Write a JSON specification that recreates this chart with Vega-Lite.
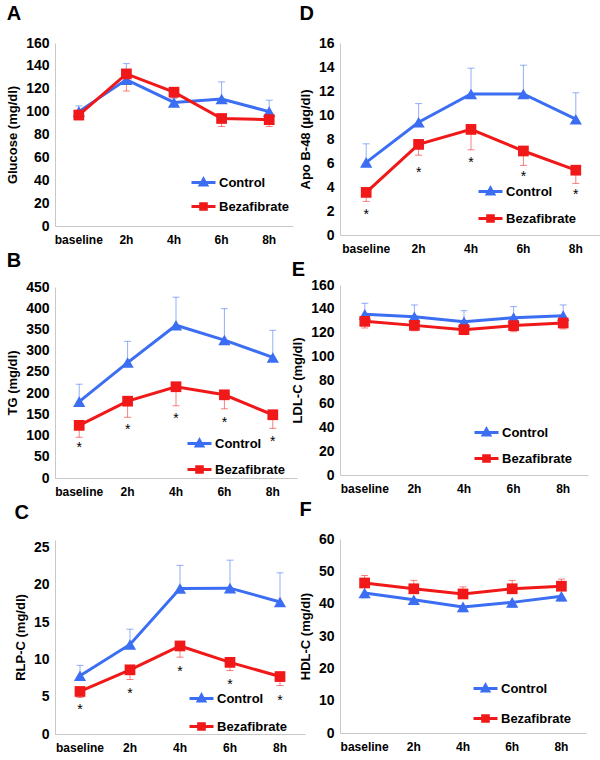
{
"$schema": "https://vega.github.io/schema/vega-lite/v6.json",
"background": "white",
"padding": {"left": 6, "top": 4, "right": 2, "bottom": 2},
"config": {
  "font": "Liberation Sans",
  "view": {"stroke": null},
  "axis": {"grid": false, "ticks": false, "labelOverlap": false, "domainColor": "#c8c8c8", "labelFont": "Liberation Sans", "labelFontWeight": "bold", "labelColor": "#000", "titleFont": "Liberation Sans", "titleFontWeight": "bold", "titleFontSize": 13, "titleColor": "#000"},
  "axisX": {"labelAngle": 0, "title": null, "labelPadding": 8, "labelFontSize": 12},
  "axisY": {"labelPadding": 6, "titlePadding": 6, "labelFontSize": 14},
  "title": {"fontSize": 20, "fontWeight": "bold", "anchor": "start", "frame": "bounds", "font": "Liberation Sans", "color": "#000"},
  "legend": {"orient": "none", "title": null, "labelFontSize": 13, "labelFontWeight": "bold", "labelColor": "#000", "labelFont": "Liberation Sans", "symbolSize": 64, "symbolStrokeWidth": 3, "symbolOpacity": 1, "labelOffset": 9, "rowPadding": 11, "padding": 0}
},
"data": {"values": [
  {"p":"A","g":"Control","t":"baseline","v":100,"e":105},
  {"p":"A","g":"Control","t":"2h","v":128,"e":142},
  {"p":"A","g":"Control","t":"4h","v":108,"e":112},
  {"p":"A","g":"Control","t":"6h","v":111,"e":126},
  {"p":"A","g":"Control","t":"8h","v":100,"e":110},
  {"p":"A","g":"Bezafibrate","t":"baseline","v":97,"e":93},
  {"p":"A","g":"Bezafibrate","t":"2h","v":133,"e":118},
  {"p":"A","g":"Bezafibrate","t":"4h","v":117,"e":112},
  {"p":"A","g":"Bezafibrate","t":"6h","v":94,"e":87},
  {"p":"A","g":"Bezafibrate","t":"8h","v":93,"e":87},
  {"p":"D","g":"Control","t":"baseline","v":6.05,"e":7.6},
  {"p":"D","g":"Control","t":"2h","v":9.4,"e":10.95},
  {"p":"D","g":"Control","t":"4h","v":11.75,"e":13.9},
  {"p":"D","g":"Control","t":"6h","v":11.75,"e":14.15},
  {"p":"D","g":"Control","t":"8h","v":9.65,"e":11.85},
  {"p":"D","g":"Bezafibrate","t":"baseline","v":3.55,"e":2.8,"s":1.9},
  {"p":"D","g":"Bezafibrate","t":"2h","v":7.55,"e":6.65,"s":5.4},
  {"p":"D","g":"Bezafibrate","t":"4h","v":8.8,"e":7.1,"s":6.25},
  {"p":"D","g":"Bezafibrate","t":"6h","v":7.0,"e":5.8,"s":5.1},
  {"p":"D","g":"Bezafibrate","t":"8h","v":5.4,"e":4.3,"s":3.6},
  {"p":"B","g":"Control","t":"baseline","v":180,"e":221},
  {"p":"B","g":"Control","t":"2h","v":272,"e":322},
  {"p":"B","g":"Control","t":"4h","v":360,"e":426},
  {"p":"B","g":"Control","t":"6h","v":325,"e":399},
  {"p":"B","g":"Control","t":"8h","v":284,"e":348},
  {"p":"B","g":"Bezafibrate","t":"baseline","v":124,"e":96,"s":78},
  {"p":"B","g":"Bezafibrate","t":"2h","v":181,"e":143,"s":121},
  {"p":"B","g":"Bezafibrate","t":"4h","v":215,"e":170,"s":147},
  {"p":"B","g":"Bezafibrate","t":"6h","v":196,"e":163,"s":137},
  {"p":"B","g":"Bezafibrate","t":"8h","v":149,"e":117,"s":92},
  {"p":"E","g":"Control","t":"baseline","v":135.3,"e":144.6},
  {"p":"E","g":"Control","t":"2h","v":133.3,"e":143.2},
  {"p":"E","g":"Control","t":"4h","v":129,"e":138.4},
  {"p":"E","g":"Control","t":"6h","v":132.5,"e":141.8},
  {"p":"E","g":"Control","t":"8h","v":134.2,"e":143.2},
  {"p":"E","g":"Bezafibrate","t":"baseline","v":129.4,"e":123.8},
  {"p":"E","g":"Bezafibrate","t":"2h","v":126,"e":121.5},
  {"p":"E","g":"Bezafibrate","t":"4h","v":122.4,"e":118.2},
  {"p":"E","g":"Bezafibrate","t":"6h","v":125.8,"e":120.7},
  {"p":"E","g":"Bezafibrate","t":"8h","v":128,"e":123},
  {"p":"C","g":"Control","t":"baseline","v":7.8,"e":9.2},
  {"p":"C","g":"Control","t":"2h","v":12.0,"e":14.05},
  {"p":"C","g":"Control","t":"4h","v":19.5,"e":22.6},
  {"p":"C","g":"Control","t":"6h","v":19.55,"e":23.3},
  {"p":"C","g":"Control","t":"8h","v":17.7,"e":21.6},
  {"p":"C","g":"Bezafibrate","t":"baseline","v":5.7,"e":4.9,"s":3.65},
  {"p":"C","g":"Bezafibrate","t":"2h","v":8.6,"e":7.3,"s":5.7},
  {"p":"C","g":"Bezafibrate","t":"4h","v":11.8,"e":10.3,"s":8.7},
  {"p":"C","g":"Bezafibrate","t":"6h","v":9.6,"e":8.5,"s":7.0},
  {"p":"C","g":"Bezafibrate","t":"8h","v":7.7,"e":6.5,"s":4.8},
  {"p":"F","g":"Control","t":"baseline","v":43.3,"e":41.8},
  {"p":"F","g":"Control","t":"2h","v":41.2,"e":39.7},
  {"p":"F","g":"Control","t":"4h","v":39,"e":37.5},
  {"p":"F","g":"Control","t":"6h","v":40.4,"e":38.9},
  {"p":"F","g":"Control","t":"8h","v":42.3,"e":40.8},
  {"p":"F","g":"Bezafibrate","t":"baseline","v":46.4,"e":48.7},
  {"p":"F","g":"Bezafibrate","t":"2h","v":44.6,"e":47.2},
  {"p":"F","g":"Bezafibrate","t":"4h","v":43,"e":45.2},
  {"p":"F","g":"Bezafibrate","t":"6h","v":44.6,"e":47.2},
  {"p":"F","g":"Bezafibrate","t":"8h","v":45.4,"e":47.6}
]},
"resolve": {"scale": {"color": "independent", "shape": "independent"}, "legend": {"color": "independent", "shape": "independent"}},
"align": "none",
"spacing": -14,
"hconcat": [
 {"vconcat": [
  {
   "title": {"text": "A", "offset": 12},
   "width": 238, "height": 183,
   "transform": [{"filter": "datum.p === 'A'"}],
   "encoding": {"x": {"field": "t", "type": "ordinal", "sort": ["baseline","2h","4h","6h","8h"], "title": null}},
   "layer": [
    {"transform": [{"filter": "datum.p === 'none'"}], "mark": {"type": "point", "filled": false, "strokeWidth": 3, "opacity": 1},
     "encoding": {"y": {"field": "v", "type": "quantitative", "scale": {"domain": [0,160]}, "axis": {"values": [0,20,40,60,80,100,120,140,160], "labelOverlap": false, "title": "Glucose (mg/dl)"}},
      "color": {"field": "g", "type": "nominal", "scale": {"domain": ["Control","Bezafibrate"], "range": ["#3b6ef2","#f01818"]}, "legend": {"legendX": 142, "legendY": 133, "rowPadding": 6}},
      "shape": {"field": "g", "type": "nominal", "scale": {"domain": ["Control","Bezafibrate"], "range": ["M-3,0H3M0,-0.85L0.8,0.6H-0.8Z","M-3,0H3M-0.7,-0.7H0.7V0.7H-0.7Z"]}, "legend": {"legendX": 142, "legendY": 133, "rowPadding": 6}}}},
    {"mark": {"type": "rule", "strokeWidth": 1, "opacity": 0.55},
     "encoding": {"y": {"field": "v", "type": "quantitative", "axis": {"values": [0,20,40,60,80,100,120,140,160], "labelOverlap": false, "title": "Glucose (mg/dl)"}}, "y2": {"field": "e"}, "color": {"field": "g", "type": "nominal"}}},
    {"mark": {"type": "tick", "thickness": 1, "size": 7, "opacity": 0.55},
     "encoding": {"y": {"field": "e", "type": "quantitative", "axis": {"values": [0,20,40,60,80,100,120,140,160], "labelOverlap": false, "title": "Glucose (mg/dl)"}}, "color": {"field": "g", "type": "nominal"}}},
    {"mark": {"type": "line", "strokeWidth": 3},
     "encoding": {"y": {"field": "v", "type": "quantitative", "axis": {"values": [0,20,40,60,80,100,120,140,160], "labelOverlap": false, "title": "Glucose (mg/dl)"}}, "color": {"field": "g", "type": "nominal"}}},
    {"transform": [{"filter": "datum.g === 'Control'"}], "mark": {"type": "point", "filled": true, "opacity": 1, "size": 150, "shape": "triangle-up"},
     "encoding": {"y": {"field": "v", "type": "quantitative", "axis": {"values": [0,20,40,60,80,100,120,140,160], "labelOverlap": false, "title": "Glucose (mg/dl)"}}, "color": {"field": "g", "type": "nominal"}}},
    {"transform": [{"filter": "datum.g === 'Bezafibrate'"}], "mark": {"type": "point", "filled": true, "opacity": 1, "size": 115, "shape": "square"},
     "encoding": {"y": {"field": "v", "type": "quantitative", "axis": {"values": [0,20,40,60,80,100,120,140,160], "labelOverlap": false, "title": "Glucose (mg/dl)"}}, "color": {"field": "g", "type": "nominal"}}}
   ]
  },
  {
   "title": {"text": "B", "offset": 9},
   "width": 242, "height": 191,
   "transform": [{"filter": "datum.p === 'B'"}],
   "encoding": {"x": {"field": "t", "type": "ordinal", "sort": ["baseline","2h","4h","6h","8h"], "title": null}},
   "layer": [
    {"transform": [{"filter": "datum.p === 'none'"}], "mark": {"type": "point", "filled": false, "strokeWidth": 3, "opacity": 1},
     "encoding": {"y": {"field": "v", "type": "quantitative", "scale": {"domain": [0,450]}, "axis": {"values": [0,50,100,150,200,250,300,350,400,450], "labelOverlap": false, "title": "TG  (mg/dl)"}},
      "color": {"field": "g", "type": "nominal", "scale": {"domain": ["Control","Bezafibrate"], "range": ["#3b6ef2","#f01818"]}, "legend": {"legendX": 138, "legendY": 150, "rowPadding": 8}},
      "shape": {"field": "g", "type": "nominal", "scale": {"domain": ["Control","Bezafibrate"], "range": ["M-3,0H3M0,-0.85L0.8,0.6H-0.8Z","M-3,0H3M-0.7,-0.7H0.7V0.7H-0.7Z"]}, "legend": {"legendX": 138, "legendY": 150, "rowPadding": 8}}}},
    {"mark": {"type": "rule", "strokeWidth": 1, "opacity": 0.55},
     "encoding": {"y": {"field": "v", "type": "quantitative", "axis": {"values": [0,50,100,150,200,250,300,350,400,450], "labelOverlap": false, "title": "TG  (mg/dl)"}}, "y2": {"field": "e"}, "color": {"field": "g", "type": "nominal"}}},
    {"mark": {"type": "tick", "thickness": 1, "size": 7, "opacity": 0.55},
     "encoding": {"y": {"field": "e", "type": "quantitative", "axis": {"values": [0,50,100,150,200,250,300,350,400,450], "labelOverlap": false, "title": "TG  (mg/dl)"}}, "color": {"field": "g", "type": "nominal"}}},
    {"mark": {"type": "line", "strokeWidth": 3},
     "encoding": {"y": {"field": "v", "type": "quantitative", "axis": {"values": [0,50,100,150,200,250,300,350,400,450], "labelOverlap": false, "title": "TG  (mg/dl)"}}, "color": {"field": "g", "type": "nominal"}}},
    {"transform": [{"filter": "datum.g === 'Control'"}], "mark": {"type": "point", "filled": true, "opacity": 1, "size": 150, "shape": "triangle-up"},
     "encoding": {"y": {"field": "v", "type": "quantitative", "axis": {"values": [0,50,100,150,200,250,300,350,400,450], "labelOverlap": false, "title": "TG  (mg/dl)"}}, "color": {"field": "g", "type": "nominal"}}},
    {"transform": [{"filter": "datum.g === 'Bezafibrate'"}], "mark": {"type": "point", "filled": true, "opacity": 1, "size": 115, "shape": "square"},
     "encoding": {"y": {"field": "v", "type": "quantitative", "axis": {"values": [0,50,100,150,200,250,300,350,400,450], "labelOverlap": false, "title": "TG  (mg/dl)"}}, "color": {"field": "g", "type": "nominal"}}},
    {"mark": {"type": "text", "text": "*", "fontSize": 14, "baseline": "middle", "dy": 3, "color": "#000"},
     "encoding": {"y": {"field": "s", "type": "quantitative", "axis": {"values": [0,50,100,150,200,250,300,350,400,450], "labelOverlap": false, "title": "TG  (mg/dl)"}}}}
   ]
  },
  {
   "title": {"text": "C", "offset": 17},
   "width": 250, "height": 194,
   "transform": [{"filter": "datum.p === 'C'"}],
   "encoding": {"x": {"field": "t", "type": "ordinal", "sort": ["baseline","2h","4h","6h","8h"], "title": null}},
   "layer": [
    {"transform": [{"filter": "datum.p === 'none'"}], "mark": {"type": "point", "filled": false, "strokeWidth": 3, "opacity": 1},
     "encoding": {"y": {"field": "v", "type": "quantitative", "scale": {"domain": [0,25]}, "axis": {"values": [0,5,10,15,20,25], "labelOverlap": false, "title": "RLP-C  (mg/dl)"}},
      "color": {"field": "g", "type": "nominal", "scale": {"domain": ["Control","Bezafibrate"], "range": ["#3b6ef2","#f01818"]}, "legend": {"legendX": 140, "legendY": 152, "rowPadding": 10}},
      "shape": {"field": "g", "type": "nominal", "scale": {"domain": ["Control","Bezafibrate"], "range": ["M-3,0H3M0,-0.85L0.8,0.6H-0.8Z","M-3,0H3M-0.7,-0.7H0.7V0.7H-0.7Z"]}, "legend": {"legendX": 140, "legendY": 152, "rowPadding": 10}}}},
    {"mark": {"type": "rule", "strokeWidth": 1, "opacity": 0.55},
     "encoding": {"y": {"field": "v", "type": "quantitative", "axis": {"values": [0,5,10,15,20,25], "labelOverlap": false, "title": "RLP-C  (mg/dl)"}}, "y2": {"field": "e"}, "color": {"field": "g", "type": "nominal"}}},
    {"mark": {"type": "tick", "thickness": 1, "size": 7, "opacity": 0.55},
     "encoding": {"y": {"field": "e", "type": "quantitative", "axis": {"values": [0,5,10,15,20,25], "labelOverlap": false, "title": "RLP-C  (mg/dl)"}}, "color": {"field": "g", "type": "nominal"}}},
    {"mark": {"type": "line", "strokeWidth": 3},
     "encoding": {"y": {"field": "v", "type": "quantitative", "axis": {"values": [0,5,10,15,20,25], "labelOverlap": false, "title": "RLP-C  (mg/dl)"}}, "color": {"field": "g", "type": "nominal"}}},
    {"transform": [{"filter": "datum.g === 'Control'"}], "mark": {"type": "point", "filled": true, "opacity": 1, "size": 150, "shape": "triangle-up"},
     "encoding": {"y": {"field": "v", "type": "quantitative", "axis": {"values": [0,5,10,15,20,25], "labelOverlap": false, "title": "RLP-C  (mg/dl)"}}, "color": {"field": "g", "type": "nominal"}}},
    {"transform": [{"filter": "datum.g === 'Bezafibrate'"}], "mark": {"type": "point", "filled": true, "opacity": 1, "size": 115, "shape": "square"},
     "encoding": {"y": {"field": "v", "type": "quantitative", "axis": {"values": [0,5,10,15,20,25], "labelOverlap": false, "title": "RLP-C  (mg/dl)"}}, "color": {"field": "g", "type": "nominal"}}},
    {"mark": {"type": "text", "text": "*", "fontSize": 14, "baseline": "middle", "dy": 3, "color": "#000"},
     "encoding": {"y": {"field": "s", "type": "quantitative", "axis": {"values": [0,5,10,15,20,25], "labelOverlap": false, "title": "RLP-C  (mg/dl)"}}}}
   ]
  }
 ], "spacing": 6, "align": "none", "resolve": {"scale": {"color": "independent", "shape": "independent"}, "legend": {"color": "independent", "shape": "independent"}}},
 {"vconcat": [
  {
   "title": {"text": "D", "offset": 12},
   "width": 262, "height": 192,
   "transform": [{"filter": "datum.p === 'D'"}],
   "encoding": {"x": {"field": "t", "type": "ordinal", "sort": ["baseline","2h","4h","6h","8h"], "title": null}},
   "layer": [
    {"transform": [{"filter": "datum.p === 'none'"}], "mark": {"type": "point", "filled": false, "strokeWidth": 3, "opacity": 1},
     "encoding": {"y": {"field": "v", "type": "quantitative", "scale": {"domain": [0,16]}, "axis": {"values": [0,2,4,6,8,10,12,14,16], "labelOverlap": false, "title": "Apo B-48  (µg/dl)"}},
      "color": {"field": "g", "type": "nominal", "scale": {"domain": ["Control","Bezafibrate"], "range": ["#3b6ef2","#f01818"]}, "legend": {"legendX": 144, "legendY": 142, "rowPadding": 9}},
      "shape": {"field": "g", "type": "nominal", "scale": {"domain": ["Control","Bezafibrate"], "range": ["M-3,0H3M0,-0.85L0.8,0.6H-0.8Z","M-3,0H3M-0.7,-0.7H0.7V0.7H-0.7Z"]}, "legend": {"legendX": 144, "legendY": 142, "rowPadding": 9}}}},
    {"mark": {"type": "rule", "strokeWidth": 1, "opacity": 0.55},
     "encoding": {"y": {"field": "v", "type": "quantitative", "axis": {"values": [0,2,4,6,8,10,12,14,16], "labelOverlap": false, "title": "Apo B-48  (µg/dl)"}}, "y2": {"field": "e"}, "color": {"field": "g", "type": "nominal"}}},
    {"mark": {"type": "tick", "thickness": 1, "size": 7, "opacity": 0.55},
     "encoding": {"y": {"field": "e", "type": "quantitative", "axis": {"values": [0,2,4,6,8,10,12,14,16], "labelOverlap": false, "title": "Apo B-48  (µg/dl)"}}, "color": {"field": "g", "type": "nominal"}}},
    {"mark": {"type": "line", "strokeWidth": 3},
     "encoding": {"y": {"field": "v", "type": "quantitative", "axis": {"values": [0,2,4,6,8,10,12,14,16], "labelOverlap": false, "title": "Apo B-48  (µg/dl)"}}, "color": {"field": "g", "type": "nominal"}}},
    {"transform": [{"filter": "datum.g === 'Control'"}], "mark": {"type": "point", "filled": true, "opacity": 1, "size": 150, "shape": "triangle-up"},
     "encoding": {"y": {"field": "v", "type": "quantitative", "axis": {"values": [0,2,4,6,8,10,12,14,16], "labelOverlap": false, "title": "Apo B-48  (µg/dl)"}}, "color": {"field": "g", "type": "nominal"}}},
    {"transform": [{"filter": "datum.g === 'Bezafibrate'"}], "mark": {"type": "point", "filled": true, "opacity": 1, "size": 115, "shape": "square"},
     "encoding": {"y": {"field": "v", "type": "quantitative", "axis": {"values": [0,2,4,6,8,10,12,14,16], "labelOverlap": false, "title": "Apo B-48  (µg/dl)"}}, "color": {"field": "g", "type": "nominal"}}},
    {"mark": {"type": "text", "text": "*", "fontSize": 14, "baseline": "middle", "dy": 3, "color": "#000"},
     "encoding": {"y": {"field": "s", "type": "quantitative", "axis": {"values": [0,2,4,6,8,10,12,14,16], "labelOverlap": false, "title": "Apo B-48  (µg/dl)"}}}}
   ]
  },
  {
   "title": {"text": "E", "offset": -2},
   "width": 248, "height": 190,
   "transform": [{"filter": "datum.p === 'E'"}],
   "encoding": {"x": {"field": "t", "type": "ordinal", "sort": ["baseline","2h","4h","6h","8h"], "title": null}},
   "layer": [
    {"transform": [{"filter": "datum.p === 'none'"}], "mark": {"type": "point", "filled": false, "strokeWidth": 3, "opacity": 1},
     "encoding": {"y": {"field": "v", "type": "quantitative", "scale": {"domain": [0,160]}, "axis": {"values": [0,20,40,60,80,100,120,140,160], "labelOverlap": false, "title": "LDL-C (mg/dl)"}},
      "color": {"field": "g", "type": "nominal", "scale": {"domain": ["Control","Bezafibrate"], "range": ["#3b6ef2","#f01818"]}, "legend": {"legendX": 140, "legendY": 141, "rowPadding": 8}},
      "shape": {"field": "g", "type": "nominal", "scale": {"domain": ["Control","Bezafibrate"], "range": ["M-3,0H3M0,-0.85L0.8,0.6H-0.8Z","M-3,0H3M-0.7,-0.7H0.7V0.7H-0.7Z"]}, "legend": {"legendX": 140, "legendY": 141, "rowPadding": 8}}}},
    {"mark": {"type": "rule", "strokeWidth": 1, "opacity": 0.55},
     "encoding": {"y": {"field": "v", "type": "quantitative", "axis": {"values": [0,20,40,60,80,100,120,140,160], "labelOverlap": false, "title": "LDL-C (mg/dl)"}}, "y2": {"field": "e"}, "color": {"field": "g", "type": "nominal"}}},
    {"mark": {"type": "tick", "thickness": 1, "size": 7, "opacity": 0.55},
     "encoding": {"y": {"field": "e", "type": "quantitative", "axis": {"values": [0,20,40,60,80,100,120,140,160], "labelOverlap": false, "title": "LDL-C (mg/dl)"}}, "color": {"field": "g", "type": "nominal"}}},
    {"mark": {"type": "line", "strokeWidth": 3},
     "encoding": {"y": {"field": "v", "type": "quantitative", "axis": {"values": [0,20,40,60,80,100,120,140,160], "labelOverlap": false, "title": "LDL-C (mg/dl)"}}, "color": {"field": "g", "type": "nominal"}}},
    {"transform": [{"filter": "datum.g === 'Control'"}], "mark": {"type": "point", "filled": true, "opacity": 1, "size": 150, "shape": "triangle-up"},
     "encoding": {"y": {"field": "v", "type": "quantitative", "axis": {"values": [0,20,40,60,80,100,120,140,160], "labelOverlap": false, "title": "LDL-C (mg/dl)"}}, "color": {"field": "g", "type": "nominal"}}},
    {"transform": [{"filter": "datum.g === 'Bezafibrate'"}], "mark": {"type": "point", "filled": true, "opacity": 1, "size": 115, "shape": "square"},
     "encoding": {"y": {"field": "v", "type": "quantitative", "axis": {"values": [0,20,40,60,80,100,120,140,160], "labelOverlap": false, "title": "LDL-C (mg/dl)"}}, "color": {"field": "g", "type": "nominal"}}}
   ]
  },
  {
   "title": {"text": "F", "offset": 12},
   "width": 246, "height": 194,
   "transform": [{"filter": "datum.p === 'F'"}],
   "encoding": {"x": {"field": "t", "type": "ordinal", "sort": ["baseline","2h","4h","6h","8h"], "title": null}},
   "layer": [
    {"transform": [{"filter": "datum.p === 'none'"}], "mark": {"type": "point", "filled": false, "strokeWidth": 3, "opacity": 1},
     "encoding": {"y": {"field": "v", "type": "quantitative", "scale": {"domain": [0,60]}, "axis": {"values": [0,10,20,30,40,50,60], "labelOverlap": false, "title": "HDL-C (mg/dl)"}},
      "color": {"field": "g", "type": "nominal", "scale": {"domain": ["Control","Bezafibrate"], "range": ["#3b6ef2","#f01818"]}, "legend": {"legendX": 139, "legendY": 143, "rowPadding": 12}},
      "shape": {"field": "g", "type": "nominal", "scale": {"domain": ["Control","Bezafibrate"], "range": ["M-3,0H3M0,-0.85L0.8,0.6H-0.8Z","M-3,0H3M-0.7,-0.7H0.7V0.7H-0.7Z"]}, "legend": {"legendX": 139, "legendY": 143, "rowPadding": 12}}}},
    {"mark": {"type": "rule", "strokeWidth": 1, "opacity": 0.55},
     "encoding": {"y": {"field": "v", "type": "quantitative", "axis": {"values": [0,10,20,30,40,50,60], "labelOverlap": false, "title": "HDL-C (mg/dl)"}}, "y2": {"field": "e"}, "color": {"field": "g", "type": "nominal"}}},
    {"mark": {"type": "tick", "thickness": 1, "size": 7, "opacity": 0.55},
     "encoding": {"y": {"field": "e", "type": "quantitative", "axis": {"values": [0,10,20,30,40,50,60], "labelOverlap": false, "title": "HDL-C (mg/dl)"}}, "color": {"field": "g", "type": "nominal"}}},
    {"mark": {"type": "line", "strokeWidth": 3},
     "encoding": {"y": {"field": "v", "type": "quantitative", "axis": {"values": [0,10,20,30,40,50,60], "labelOverlap": false, "title": "HDL-C (mg/dl)"}}, "color": {"field": "g", "type": "nominal"}}},
    {"transform": [{"filter": "datum.g === 'Control'"}], "mark": {"type": "point", "filled": true, "opacity": 1, "size": 150, "shape": "triangle-up"},
     "encoding": {"y": {"field": "v", "type": "quantitative", "axis": {"values": [0,10,20,30,40,50,60], "labelOverlap": false, "title": "HDL-C (mg/dl)"}}, "color": {"field": "g", "type": "nominal"}}},
    {"transform": [{"filter": "datum.g === 'Bezafibrate'"}], "mark": {"type": "point", "filled": true, "opacity": 1, "size": 115, "shape": "square"},
     "encoding": {"y": {"field": "v", "type": "quantitative", "axis": {"values": [0,10,20,30,40,50,60], "labelOverlap": false, "title": "HDL-C (mg/dl)"}}, "color": {"field": "g", "type": "nominal"}}}
   ]
  }
 ], "spacing": 6, "align": "none", "resolve": {"scale": {"color": "independent", "shape": "independent"}, "legend": {"color": "independent", "shape": "independent"}}}
]
}
